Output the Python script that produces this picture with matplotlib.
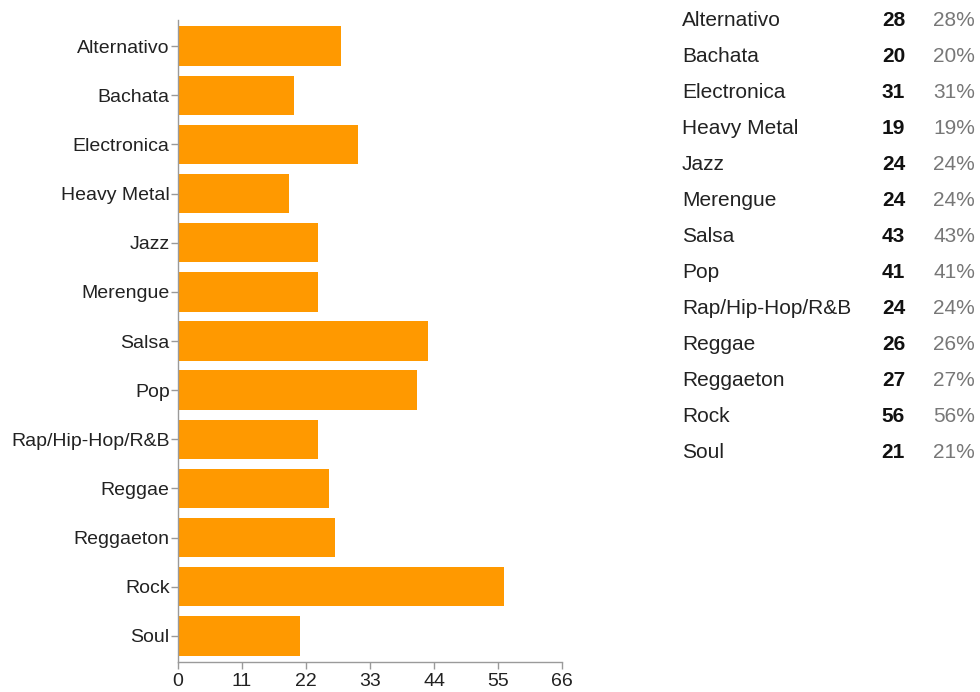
import matplotlib
matplotlib.use("Agg")
import matplotlib.pyplot as plt

genres = ["Alternativo", "Bachata", "Electronica", "Heavy Metal", "Jazz", "Merengue",
          "Salsa", "Pop", "Rap/Hip-Hop/R&B", "Reggae", "Reggaeton", "Rock", "Soul"]
counts = [28, 20, 31, 19, 24, 24, 43, 41, 24, 26, 27, 56, 21]
percents = [28, 20, 31, 19, 24, 24, 43, 41, 24, 26, 27, 56, 21]
xticks = [0, 11, 22, 33, 44, 55, 66]

plt.rcParams["font.family"] = ["Liberation Sans", "DejaVu Sans"]

fig = plt.figure(figsize=(9.8, 6.92), dpi=100)
ax = fig.add_axes([178/980, 1 - 662/692, 384/980, 642/692])

pos = list(range(len(genres)))
ax.barh(pos, counts, height=0.8, color="#ff9900", edgecolor="none")
ax.set_ylim(len(genres) - 0.47, -0.53)
ax.set_xlim(0, 66)
ax.set_xticks(xticks)
ax.set_yticks(pos)
ax.set_yticklabels(genres)

for s in ["top", "right"]:
    ax.spines[s].set_visible(False)
for s in ["left", "bottom"]:
    ax.spines[s].set_color("#9a9a9a")
    ax.spines[s].set_linewidth(1.0)
ax.tick_params(axis="both", colors="#9a9a9a", labelcolor="#222222", labelsize=14, length=5, width=1)
ax.tick_params(axis="y", pad=1)
ax.tick_params(axis="x", pad=3)

# summary table on the right
row0 = 1 - 20/692
step = 36/692
for i, (g, c, p) in enumerate(zip(genres, counts, percents)):
    y = row0 - i * step
    fig.text(682/980, y, g, fontsize=15, color="#222222", va="center", ha="left")
    fig.text(905/980, y, str(c), fontsize=15, color="#111111", fontweight="bold", va="center", ha="right")
    fig.text(975/980, y, f"{p}%", fontsize=15, color="#777777", va="center", ha="right")

fig.savefig("out.png", dpi=100)
